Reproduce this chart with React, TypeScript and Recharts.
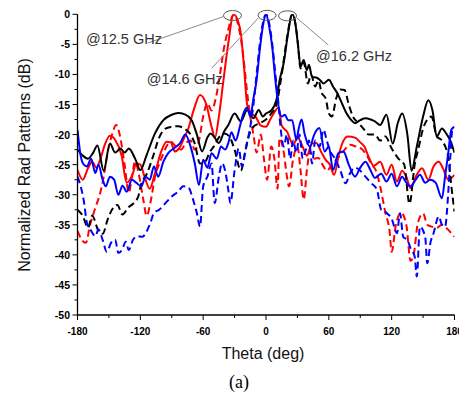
import React from 'react';
import { LineChart, Line, XAxis, YAxis, ReferenceLine, ReferenceDot } from 'recharts';

type Pt = [number, number];

// Theta (deg) vs normalized pattern (dB)
const redSolid: Pt[] = [
  [-180, -25.9], [-175, -27.5], [-170, -25.6], [-166, -24.5], [-162, -25.5], [-158, -24], [-154, -21.7], [-149, -20.2],
  [-144, -20.9], [-138, -23.4], [-133, -28], [-130, -27.5], [-127, -26.4], [-124, -24.8], [-120, -25], [-116, -27],
  [-111, -29], [-106, -26.4], [-100, -22.8], [-95, -21.2], [-91, -21.3], [-87, -22.8], [-82, -22], [-78, -20.5],
  [-74, -18.9], [-69, -15.9], [-63, -13.4], [-57, -15], [-52, -18.7], [-48.7, -20.5], [-45, -17], [-41, -11.5],
  [-36, -4.8], [-31, 0], [-27, -1], [-24, -3.2], [-21, -8.7], [-18, -15], [-14, -16.5], [-10, -17], [-5, -18.5],
  [0, -18.7], [4, -17.5], [9, -16], [12, -15.5], [15, -18.5], [20, -19.5], [26, -21.7], [30, -20.5], [35, -22],
  [39, -23.5], [44, -21.5], [48, -21.4], [53, -23], [57, -24.2], [61, -25], [65, -26.7], [70, -23], [74, -21],
  [78, -20.3], [85, -20.5], [90, -21.3], [94, -22], [98, -23.7], [103, -25.2], [109, -24.5], [115, -26.7],
  [120, -25], [125, -27.8], [130, -26], [134, -27], [138, -28.9], [143, -27], [149, -25.6], [155, -27.5],
  [160, -25.3], [165, -24.5], [169, -25.6], [174, -27.5], [180, -26.7],
];

const redDashed: Pt[] = [
  [-180, -36], [-176, -37.5], [-172, -38], [-168, -35], [-163, -32.2], [-158, -29.5], [-155, -27], [-152, -23.7],
  [-147, -20], [-143, -18.4], [-139, -20.6], [-135, -25], [-131, -29.7], [-128, -27], [-125, -24.5], [-121, -27],
  [-117, -31], [-114, -33.5], [-110, -31], [-106, -27], [-101, -24.5], [-96, -22.3], [-91, -21.2], [-86, -22],
  [-81, -22.5], [-77, -21.5], [-72, -21], [-68, -22.5], [-64, -21], [-60, -17], [-56, -14.8], [-52, -16],
  [-48, -14], [-44, -10], [-40, -5.5], [-36, -2.5], [-32, -0.3], [-30, 0], [-27, -1.5], [-24, -4], [-21, -8],
  [-18, -13], [-15, -17], [-12, -20], [-9, -23], [-5, -20], [-2, -24], [1, -27.5], [5, -22], [8, -24], [11, -29],
  [13, -20.6], [17, -23], [20, -27], [22, -28.6], [26, -24], [30, -22], [33, -26], [36, -30.8], [39, -26],
  [42, -22.8], [46, -24], [50, -23.9], [54, -25], [58, -26], [63, -25], [68, -24], [73, -23], [80, -21.7],
  [86, -22], [92, -22.5], [96, -23.4], [101, -25], [105, -26], [109, -28.6], [114, -33], [118, -36], [120, -39.5],
  [124, -35], [129, -33], [134, -35], [138, -41], [141, -40], [145, -34.7], [150, -33.1], [154, -35], [158, -35.3],
  [163, -35.5], [168, -35], [172, -35.5], [177, -36.4], [180, -37],
];

const blackSolid: Pt[] = [
  [-180, -22.5], [-175, -23.5], [-170, -24], [-165, -23], [-161, -21.8], [-155, -26], [-149, -21.5], [-144, -23],
  [-139, -22.3], [-135, -23], [-131, -22.3], [-125, -24], [-120, -25.9], [-114, -23.4], [-106, -19.8], [-98, -17.6],
  [-90, -16.7], [-84, -16.4], [-78, -16.6], [-71, -17.6], [-66, -20], [-61, -22.8], [-56, -20.5], [-53, -19.8],
  [-49, -20.5], [-45, -21.4], [-40, -19.5], [-36, -18.4], [-30, -16.5], [-24, -17.8], [-18, -15.9], [-12, -17.3],
  [-7, -15.9], [-3, -17], [0, -16.5], [5, -16], [10, -14.2], [13, -11], [17, -8], [21, -3.2], [25, 0], [28, -1.5],
  [31, -5.9], [33, -8.7], [36, -7.6], [39, -9.3], [41, -8.4], [44, -10.4], [48, -10.5], [52, -11], [55, -11.5],
  [60, -10.9], [64, -12], [68, -13.1], [73, -15], [77, -16.5], [81, -17.5], [85, -18.1], [90, -17.6], [95, -17.3],
  [100, -17.5], [104, -17.8], [109, -18.4], [115, -16.7], [121, -21.5], [126, -18], [130, -16.5], [135, -20],
  [139, -26], [144, -22], [150, -17], [155, -14.3], [159, -16], [163, -20.3], [168, -19], [172, -19.8],
  [176, -21], [180, -23],
];

const blackDashed: Pt[] = [
  [-180, -32.5], [-175, -33.5], [-170, -35.5], [-166, -33.5], [-160, -36], [-156, -36.5], [-151, -34], [-146, -32.2],
  [-142, -31.7], [-137, -33.3], [-132, -32.2], [-127, -31.5], [-122, -30.3], [-119, -28.1], [-114, -26.6],
  [-108, -23.7], [-102, -20.5], [-96, -19], [-90, -18.7], [-84, -18.6], [-78, -19], [-72, -20], [-68, -21.5],
  [-63, -24.8], [-58, -24.5], [-54, -23], [-50, -22], [-45, -20.5], [-40, -19.8], [-35, -20.3], [-30, -22.5],
  [-24, -26], [-20, -23], [-16, -20], [-12, -18.7], [-6, -18.1], [0, -17.5], [5, -16.5], [10, -15], [15, -10],
  [20, -4], [25, 0], [28, -1.5], [30, -4], [33, -9], [36, -8], [40, -11.5], [43, -10], [47, -12], [50, -11],
  [53, -13], [57, -14], [60, -16.5], [63, -17], [67, -14], [71, -12.5], [75, -12.6], [79, -15], [83, -17],
  [88, -18], [93, -19], [98, -20], [104, -20], [109, -21], [114, -20.3], [120, -22.3], [126, -23.9], [132, -25],
  [137, -31.5], [142, -25], [146, -22], [150, -19], [154, -17.5], [158, -17], [163, -20.3], [168, -21],
  [174, -23.7], [177, -28.6], [180, -32.8],
];

const blueSolid: Pt[] = [
  [-180, -19.2], [-177, -23.5], [-174, -25], [-171, -25.3], [-167, -24], [-163, -26.4], [-160, -25], [-156, -27.5],
  [-153, -28.6], [-149, -27], [-145, -27.5], [-141, -30], [-137, -28.5], [-133, -29.5], [-128, -27.5], [-124, -28],
  [-119, -28.6], [-115, -27], [-111, -27.5], [-107, -25.3], [-103, -27], [-98, -24.5], [-93, -23], [-88, -22.3],
  [-82, -21.4], [-77, -20], [-72, -22], [-68, -24.8], [-64, -28.4], [-60, -24.2], [-56, -25.5], [-52, -23.1],
  [-47, -24], [-43, -22], [-39, -22.5], [-36, -21.4], [-33, -19.6], [-29, -21], [-25, -18.7], [-22, -16.7],
  [-18, -15.5], [-15, -17], [-12, -14], [-9, -11], [-6, -6], [-3, -2], [0, 0], [3, -2], [6, -5.5], [9, -11],
  [12, -15.3], [15, -17], [18, -16.7], [21, -17.6], [25, -17.6], [29, -20.9], [31, -19.2], [34, -17.5], [37, -20],
  [42, -22], [46, -20], [51, -18.9], [56, -22.8], [60, -22], [64, -25.9], [69, -23.1], [74, -22.8], [79, -25],
  [85, -27], [90, -25.5], [95, -24.5], [100, -26], [104, -27.2], [110, -26.5], [115, -27.8], [120, -26.5],
  [125, -28.6], [130, -27], [134, -28], [138, -28.6], [143, -27.5], [147, -26.7], [152, -28], [157, -27.5],
  [162, -28], [168, -30.6], [171, -27], [174, -23.1], [177, -19.2], [180, -18.7],
];

const blueDashed: Pt[] = [
  [-180, -27], [-177, -28.6], [-174, -31], [-171, -34.7], [-167, -36], [-163, -36.9], [-160, -35.8], [-156, -37.5],
  [-152, -39.5], [-148, -38], [-144, -37.5], [-141, -39.7], [-137, -39], [-134, -37.8], [-131, -39.2], [-127, -37.5],
  [-123, -36.9], [-118, -37], [-114, -36.1], [-110, -34.5], [-107, -33], [-102, -32.5], [-96, -31.4], [-90, -30.3],
  [-84, -29.5], [-79, -28.6], [-74, -28.8], [-70, -30.6], [-66, -33.1], [-63, -35.3], [-60, -28.6], [-56, -27],
  [-52, -24.8], [-49, -31.4], [-45, -27], [-42, -24.8], [-39, -26], [-36, -29.2], [-34, -31.4], [-30, -26],
  [-26, -22.3], [-23, -25.3], [-19, -22], [-15, -18.7], [-12, -15], [-9, -10], [-6, -5], [-3, -1.5], [0, 0],
  [3, -1.5], [6, -5], [9, -10], [12, -15], [14, -19], [17, -22], [20, -20], [23, -24], [26, -21], [29, -23],
  [32, -20], [35, -24], [38, -22.5], [41, -21], [44, -24.8], [47, -21], [51, -22], [55, -19.2], [58, -21],
  [62, -23], [66, -24], [71, -26], [76, -28.1], [80, -26.5], [85, -25.5], [90, -26], [95, -27], [100, -28],
  [106, -29.2], [110, -32.5], [115, -33], [120, -34], [125, -36.4], [128, -33.1], [131, -37], [135, -37.5],
  [138, -38.9], [142, -40.3], [144, -43.6], [147, -35.3], [152, -37], [154, -41.4], [157, -38], [160, -36.4],
  [165, -33.6], [168, -35], [171, -35.3], [174, -29.7], [176, -23.7], [178, -19.2], [180, -19.5],
];

const xTicks = [-180, -150, -120, -90, -60, -30, 0, 30, 60, 90, 120, 150, 180];
const yTicks = [-50, -47.5, -45, -42.5, -40, -37.5, -35, -32.5, -30, -27.5, -25, -22.5, -20, -17.5, -15, -12.5, -10, -7.5, -5, -2.5, 0];

// peak markers (ellipse centres), leader lines and label anchors, in data units
const peakMarks: Pt[] = [[-32, -0.2], [1, -0.17], [20.6, -0.25]];
const leaderLines: [Pt, Pt][] = [
  [[-41, -0.4], [-112.7, -4.77]],
  [[-7.3, -0.6], [-51.8, -8.97]],
  [[29.4, -0.6], [59.5, -5.1]],
];
const labelTexts = ['@12.5 GHz', '@14.6 GHz', '@16.2 GHz'];
const labelAnchors: Pt[] = [[-171.9, -4.93], [-113.9, -11.6], [47.8, -7.76]];

const toRows = (s: Pt[]) => s.map(([t, v]) => ({ t, v }));

const FONT = "'Liberation Sans', Arial, sans-serif";

const XTick = (props: any) => {
  const { x, y, payload } = props;
  const major = payload.value % 60 === 0;
  return (
    <g>
      <line x1={x} x2={x} y1={y} y2={y + (major ? 5 : 3)} stroke="#000" strokeWidth={1} />
      {major && (
        <text x={x} y={y + 19.5} textAnchor="middle" fontSize={10} fontWeight="bold" fontFamily={FONT} fill="#000">
          {payload.value}
        </text>
      )}
    </g>
  );
};

const YTick = (props: any) => {
  const { x, y, payload } = props;
  const major = payload.value % 5 === 0;
  return (
    <g>
      <line x1={x - (major ? 5 : 3)} x2={x} y1={y} y2={y} stroke="#000" strokeWidth={1} />
      {major && (
        <text x={x - 7.5} y={y + 4} textAnchor="end" fontSize={10.5} fontWeight="bold" fontFamily={FONT} fill="#000">
          {payload.value}
        </text>
      )}
    </g>
  );
};

const EllipseShape = (props: any) => (
  <ellipse cx={props.cx} cy={props.cy} rx={9} ry={5} fill="none" stroke="#555" strokeWidth={1} />
);

const makeTextShape = (txt: string) => (props: any) => (
  <text x={props.cx} y={props.cy} fontSize={14.5} fontFamily={FONT} fill="#333">
    {txt}
  </text>
);

export default function App() {
  const W = 459;
  const H = 389;
  return (
    <div style={{ position: 'relative', width: W, height: H }}>
      <LineChart width={W} height={H} margin={{ top: 6.3, right: 12.5, left: 0, bottom: 52 }}>
        <XAxis
          dataKey="t"
          type="number"
          domain={[-180, 180]}
          ticks={xTicks}
          interval={0}
          tickSize={0}
          tickMargin={0}
          tickLine={false}
          tick={<XTick />}
          axisLine={{ stroke: '#000', strokeWidth: 1.3 }}
          height={30}
          allowDataOverflow
        />
        <YAxis
          type="number"
          domain={[-50, 0]}
          ticks={yTicks}
          interval={0}
          tickSize={0}
          tickMargin={0}
          tickLine={false}
          tick={<YTick />}
          axisLine={{ stroke: '#000', strokeWidth: 1.3 }}
          width={69.5}
          allowDataOverflow
        />
        <Line data={toRows(redDashed)} dataKey="v" type="monotone" stroke="#ff0000" strokeWidth={2} strokeDasharray="7 4" dot={false} isAnimationActive={false} />
        <Line data={toRows(redSolid)} dataKey="v" type="monotone" stroke="#ff0000" strokeWidth={2} dot={false} isAnimationActive={false} />
        <Line data={toRows(blackDashed)} dataKey="v" type="monotone" stroke="#000000" strokeWidth={2} strokeDasharray="7 4" dot={false} isAnimationActive={false} />
        <Line data={toRows(blackSolid)} dataKey="v" type="monotone" stroke="#000000" strokeWidth={2} dot={false} isAnimationActive={false} />
        <Line data={toRows(blueDashed)} dataKey="v" type="monotone" stroke="#0000ff" strokeWidth={2} strokeDasharray="7 4" dot={false} isAnimationActive={false} />
        <Line data={toRows(blueSolid)} dataKey="v" type="monotone" stroke="#0000ff" strokeWidth={2} dot={false} isAnimationActive={false} />
        {leaderLines.map((seg, i) => (
          <ReferenceLine
            key={'l' + i}
            segment={[{ x: seg[0][0], y: seg[0][1] }, { x: seg[1][0], y: seg[1][1] }]}
            stroke="#8a8a8a"
            strokeWidth={1}
          />
        ))}
        {peakMarks.map((p, i) => (
          <ReferenceDot key={'e' + i} x={p[0]} y={p[1]} r={5} shape={EllipseShape} />
        ))}
        {labelAnchors.map((p, i) => (
          <ReferenceDot key={'t' + i} x={p[0]} y={p[1]} r={1} shape={makeTextShape(labelTexts[i])} />
        ))}
      </LineChart>
      <svg
        width={W}
        height={H}
        style={{ position: 'absolute', left: 0, top: 0, pointerEvents: 'none' }}
      >
        <text
          x={16}
          y={157}
          transform="rotate(-90 16 157)"
          textAnchor="middle"
          dominantBaseline="central"
          fontSize={16}
          fontFamily={FONT}
          fill="#111"
        >
          Normalized Rad Patterns (dB)
        </text>
        <text x={255} y={351} textAnchor="middle" fontSize={16} fontFamily={FONT} fill="#111">
          Theta (deg)
        </text>
        <text x={231} y={380} textAnchor="middle" fontSize={18} fontFamily="'Liberation Serif', 'Times New Roman', serif" fill="#000">
          (a)
        </text>
      </svg>
    </div>
  );
}
